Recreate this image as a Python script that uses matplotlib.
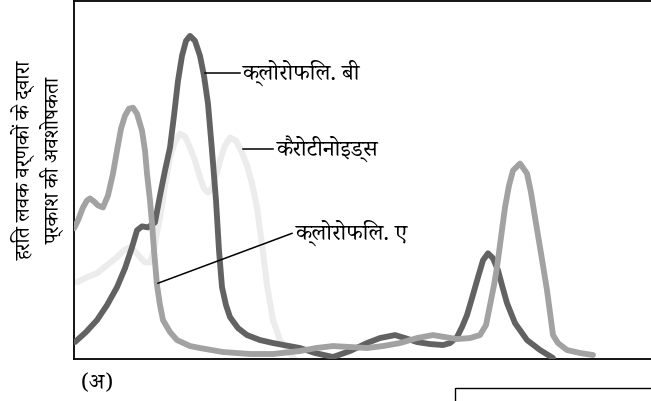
import matplotlib
matplotlib.use('Agg')
import matplotlib.pyplot as plt
from matplotlib.patches import Rectangle

plt.rcParams['font.family'] = ['Noto Serif Devanagari', 'DejaVu Sans']

# wavelength (nm) and relative absorbance
chl_b_nm = [400.6, 407.2, 413.8, 419.8, 425.8, 430.6, 434.8, 437.8, 440.8, 444.4,
            448.6, 451.6, 454.6, 457.6, 460.0, 462.4, 464.8, 467.2, 469.6, 472.6,
            475.6, 478.0, 480.4, 482.8, 485.2, 487.0, 488.8, 491.2, 493.6, 498.4,
            503.8, 511.6, 519.4, 535.6, 544.6, 555.4, 565.6, 575.8, 583.6, 592.6,
            598.6, 605.8, 613.6, 621.4, 625.6, 629.8, 632.8, 635.8, 638.8, 642.4,
            645.4, 648.4, 651.4, 654.4, 656.8, 659.8, 664.6, 671.8, 679.6, 687.4]
chl_b_abs = [17, 27, 39, 54, 72, 91, 112, 129, 133, 132,
             137, 164, 189, 212, 244, 279, 304, 319, 324, 319,
             304, 284, 256, 209, 159, 109, 72, 54, 42, 31,
             24, 19, 16, 11, 6, 2, 8, 16, 21, 24,
             21, 17, 15, 14, 16, 22, 32, 44, 61, 82,
             99, 106, 101, 89, 74, 56, 36, 19, 9, 1]

chl_a_nm = [400.0, 402.4, 405.4, 407.8, 409.6, 412.0, 414.4, 417.4, 420.4, 423.4,
            425.8, 428.2, 430.6, 433.0, 435.4, 437.8, 440.8, 442.6, 443.8, 445.6,
            446.8, 448.0, 449.8, 451.6, 453.4, 457.6, 461.8, 469.6, 475.6, 489.4,
            505.6, 519.4, 535.6, 545.2, 555.4, 565.6, 575.8, 585.4, 595.6, 605.8,
            615.4, 622.6, 629.8, 637.6, 643.6, 647.2, 649.6, 652.0, 653.8, 656.2,
            658.6, 661.0, 663.4, 667.6, 671.8, 674.2, 676.6, 680.2, 683.8, 686.2,
            687.4, 690.4, 695.8, 703.6, 711.4]
chl_a_abs = [131, 139, 152, 159, 161, 158, 154, 152, 164, 186,
             209, 231, 244, 251, 252, 246, 229, 209, 186, 159,
             136, 109, 74, 54, 39, 27, 19, 13, 11, 7,
             5, 5, 8, 11, 13, 12, 11, 13, 16, 21,
             24, 22, 20, 21, 24, 34, 54, 74, 92, 122,
             152, 174, 189, 196, 186, 167, 142, 106, 69, 39,
             24, 16, 9, 6, 4]

carot_nm = [401.8, 407.8, 413.8, 419.8, 425.8, 430.0, 433.6, 436.6, 439.6, 442.6,
            445.6, 448.0, 449.8, 451.6, 454.6, 457.6, 460.6, 463.6, 466.6, 469.6,
            472.6, 475.6, 478.0, 480.4, 482.8, 485.2, 487.6, 490.6, 493.6, 497.2,
            500.8, 503.8, 506.8, 509.8, 511.6, 513.4, 515.8, 519.4, 523.6, 529.6,
            532.0]
carot_abs = [77, 82, 86, 94, 102, 109, 112, 108, 102, 97,
             97, 109, 127, 142, 174, 202, 218, 226, 223, 212,
             199, 182, 171, 167, 171, 184, 199, 214, 222, 219,
             207, 194, 176, 152, 129, 107, 74, 39, 19, 6,
             1]

label_b = 'क्लोरोफिल. बी'
label_car = 'कैरोटीनोइड्स'
label_a = 'क्लोरोफिल. ए'
ylabel_lines = ['हरित लवक वर्णकों के द्वारा', 'प्रकाश की अवशोषकता']
panel = '(अ)'

fig = plt.figure(figsize=(6.51, 4.01), dpi=100)
ax = fig.add_axes([74 / 651, 42 / 401, 577 / 651, 358 / 401])

line_kw = dict(solid_capstyle='round', solid_joinstyle='round')
ax.plot(carot_nm, carot_abs, color='#ececec', lw=4.4, zorder=2, **line_kw)
ax.plot(chl_b_nm, chl_b_abs, color='#626262', lw=4.2, zorder=3, **line_kw)
ax.plot(chl_a_nm, chl_a_abs, color='#a2a2a2', lw=4.2, zorder=4, **line_kw)

ax.set_xlim(400, 746.2)
ax.set_ylim(0, 359)
ax.set_xticks([])
ax.set_yticks([])
ax.spines['right'].set_visible(False)
for s in ('left', 'bottom', 'top'):
    ax.spines[s].set_linewidth(1.3)

# leader lines and labels
ax.plot([478.6, 499.6], [287, 287], color='black', lw=1.1, zorder=5)
ax.text(501.4, 287, label_b, fontsize=16.5, va='center', ha='left')
ax.plot([501.4, 519.4], [211, 211], color='black', lw=1.1, zorder=5)
ax.text(521.8, 211, label_car, fontsize=16.5, va='center', ha='left')
ax.plot([450.4, 530.8], [76, 126], color='black', lw=1.1, zorder=5)
ax.text(533.2, 127, label_a, fontsize=16.5, va='center', ha='left')

ax.text(-0.087, 0.554, ylabel_lines[0], transform=ax.transAxes, rotation=90,
        fontsize=15, ha='center', va='center')
ax.text(-0.036, 0.554, ylabel_lines[1], transform=ax.transAxes, rotation=90,
        fontsize=15, ha='center', va='center')

fig.text(97 / 651, 1 - 383 / 401, panel, fontsize=16, ha='center', va='center')
fig.patches.append(Rectangle((455 / 651, -0.1), 0.5, 0.1 + 13 / 401, transform=fig.transFigure,
                             fill=False, edgecolor='black', lw=1.0))

fig.savefig('out.png', dpi=100)
